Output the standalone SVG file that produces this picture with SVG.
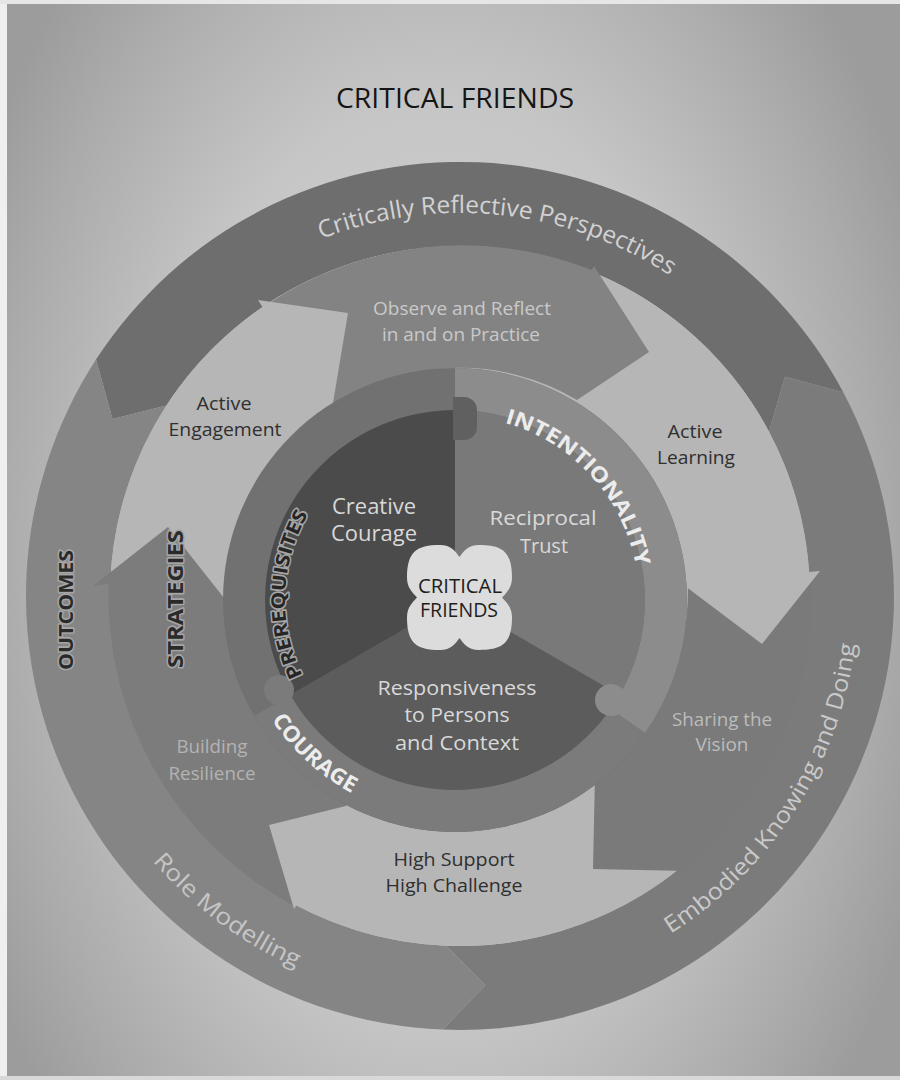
<svg xmlns="http://www.w3.org/2000/svg" width="900" height="1080" viewBox="0 0 900 1080">
<defs>
  <radialGradient id="bg" gradientUnits="userSpaceOnUse" cx="440" cy="560" r="520" gradientTransform="translate(440 560) scale(1 1.6) translate(-440 -560)">
    <stop offset="0" stop-color="#d4d4d4"/>
    <stop offset="0.55" stop-color="#c6c6c6"/>
    <stop offset="0.85" stop-color="#ababab"/>
    <stop offset="1" stop-color="#9c9c9c"/>
  </radialGradient>
  <path id="pCRP" d="M150.1,370.9 A383,383 0 0 1 809.9,440.2"/>
  <path id="pEKD" d="M390.9,987.9 A398,398 0 0 0 786,367.7"/>
  <path id="pRM" d="M60.2,666.5 A406,406 0 0 0 509.5,999"/>
  <path id="pPRE" d="M370,747.2 A170,170 0 0 1 380.5,447.2"/>
  <path id="pINT" d="M392.1,427.1 A184,184 0 0 1 621.8,677.8"/>
  <path id="pCOU" d="M236.8,580.9 A219,219 0 0 0 493,815.7"/>
</defs>
<style>
  text { font-family: "Open Sans", "Liberation Sans", sans-serif; text-anchor: middle; }
  .dk { fill: #2f2f2f; }
  .lt { fill: #d9d9d9; }
  .mt { fill: #bcbcbc; }
  .bold { font-weight: bold; }
  .halo { stroke: #a6a6a6; stroke-width: 3; paint-order: stroke; stroke-linejoin: round; }
  .light { fill: #b6b6b6; }
</style>

<rect width="900" height="1080" fill="url(#bg)"/>
<rect x="0" y="0" width="7" height="1080" fill="#efefef"/>
<rect x="0" y="0" width="900" height="4" fill="#e6e6e6"/>
<rect x="0" y="1076" width="900" height="4" fill="#d8d8d8"/>

<text x="455" y="108" font-size="27" fill="#151515" textLength="238" lengthAdjust="spacingAndGlyphs">CRITICAL FRIENDS</text>

<g id="outer-ring">
  <path id="band-critically-reflective" d="M96,359.6 A434,434 0 0 1 843.2,392.2 L785,376.8 L769,431.7 A350,350 0 0 0 166.5,405.4 L112.5,418.9 Z" fill="#6e6e6e"/>
  <path id="band-embodied" d="M785,376.8 L843.2,392.2 A434,434 0 0 1 442.6,1029.6 L485.2,985.2 L446,945.7 A350,350 0 0 0 769,431.7 Z" fill="#7b7b7b"/>
  <path id="band-role-modelling" d="M485.2,985.2 L442.6,1029.6 A434,434 0 0 1 96,359.6 L112.5,418.9 L166.5,405.4 A350,350 0 0 0 446,945.7 Z" fill="#858585"/>
</g>

<g id="middle-ring">
  <circle cx="460" cy="596" r="350" class="light"/>
  <path id="arrow-observe" d="M263.7,306.7 A351.5,351.5 0 0 1 591.7,270.1 L594,266 L649,352 L577,400 A228,228 0 0 0 332.5,407 Z" fill="#838383"/>
  <path id="arrow-sharing" d="M811.3,583.7 A351.5,351.5 0 0 1 686,865.3 L688,871 L593,869 L595,775 A228,228 0 0 0 687.9,588 Z" fill="#7a7a7a"/>
  <path id="arrow-building" d="M292.3,904.9 A351.5,351.5 0 0 1 108.7,583.7 L93,586 L168,527 L224,598 L232,596 A228,228 0 0 0 351.2,796.4 Z" fill="#7c7c7c"/>
  <polygon id="head-active-engagement" points="258,300 348,313 331,415" class="light"/>
  <polygon id="head-active-learning" points="681,583 820,571 762,644" class="light"/>
  <polygon id="head-high-support" points="362,802 269,825 294,909" class="light"/>
</g>

<g id="inner-band">
  <circle cx="455" cy="600" r="232" fill="#717171"/>
  <path id="band-intentionality" d="M455,368 A232,232 0 0 1 645,733.1 L610.6,709 A190,190 0 0 0 455,410 Z" fill="#8c8c8c"/>
  <path id="band-courage" d="M645,733.1 A232,232 0 0 1 254.1,716 L290.5,695 A190,190 0 0 0 610.6,709 Z" fill="#7b7b7b"/>
</g>

<g id="core">
  <path id="sector-creative" d="M455,600 L290.5,695 A190,190 0 0 1 455,410 Z" fill="#4b4b4b"/>
  <path id="sector-reciprocal" d="M455,600 L455,410 A190,190 0 0 1 619.5,695 Z" fill="#797979"/>
  <path id="sector-responsiveness" d="M455,600 L619.5,695 A190,190 0 0 1 290.5,695 Z" fill="#5c5c5c"/>
  <path id="tab-top" d="M453,397 L464,397 A13,13 0 0 1 477,410 L477,427 A13,13 0 0 1 464,440 L453,440 Z" fill="#606060"/>
  <circle id="tab-right" cx="611" cy="700" r="16" fill="#8c8c8c"/>
  <circle id="tab-left" cx="279" cy="690" r="15" fill="#7b7b7b"/>
</g>

<g id="center-badge">
  <path d="M407,578 C407,552 416,545 440,545 C451,545 455,551 459.5,557 C464,551 468,545 479,545 C503,545 512,552 512,578 C512,588 506,593 502,597.5 C506,602 512,607 512,617 C512,643 503,650 479,650 C468,650 464,644 459.5,638 C455,644 451,650 440,650 C416,650 407,643 407,617 C407,607 413,602 417,597.5 C413,593 407,588 407,578 Z" fill="#dcdcdc"/>
  <text x="460" y="593" font-size="20" fill="#1e1e1e" textLength="84" lengthAdjust="spacingAndGlyphs">CRITICAL</text>
  <text x="459" y="617" font-size="20" fill="#1e1e1e" textLength="78" lengthAdjust="spacingAndGlyphs">FRIENDS</text>
</g>

<g id="labels">
  <text font-size="24" fill="#d2d2d2"><textPath href="#pCRP" startOffset="50%" textLength="364" lengthAdjust="spacingAndGlyphs">Critically Reflective Perspectives</textPath></text>
  <text font-size="23" fill="#c9c9c9"><textPath href="#pEKD" startOffset="50%" textLength="355" lengthAdjust="spacingAndGlyphs">Embodied Knowing and Doing</textPath></text>
  <text font-size="23" fill="#c5c5c5"><textPath href="#pRM" startOffset="50%" textLength="180" lengthAdjust="spacingAndGlyphs">Role Modelling</textPath></text>

  <text class="bold halo" font-size="20" fill="#2a2a2a" transform="translate(73 610) rotate(-90)" textLength="120" lengthAdjust="spacingAndGlyphs">OUTCOMES</text>
  <text class="bold halo" font-size="21" fill="#2a2a2a" transform="translate(183 599) rotate(-90)" textLength="138" lengthAdjust="spacingAndGlyphs">STRATEGIES</text>
  <text class="bold halo" font-size="19" fill="#262626"><textPath href="#pPRE" startOffset="50%" textLength="168" lengthAdjust="spacingAndGlyphs">PREREQUISITES</textPath></text>
  <text class="bold" font-size="21" fill="#ececec"><textPath href="#pINT" startOffset="50%" textLength="205" lengthAdjust="spacingAndGlyphs">INTENTIONALITY</textPath></text>
  <text class="bold" font-size="22" fill="#ececec"><textPath href="#pCOU" startOffset="50%" textLength="110" lengthAdjust="spacingAndGlyphs">COURAGE</textPath></text>

  <text x="462" y="315" font-size="18" fill="#c9c9c9" textLength="178" lengthAdjust="spacingAndGlyphs">Observe and Reflect</text>
  <text x="461" y="341" font-size="18" fill="#c9c9c9" textLength="158" lengthAdjust="spacingAndGlyphs">in and on Practice</text>

  <text x="224" y="410" font-size="19" class="dk" textLength="55" lengthAdjust="spacingAndGlyphs">Active</text>
  <text x="225" y="436" font-size="19" class="dk" textLength="113" lengthAdjust="spacingAndGlyphs">Engagement</text>

  <text x="695" y="438" font-size="19" class="dk" textLength="55" lengthAdjust="spacingAndGlyphs">Active</text>
  <text x="696" y="464" font-size="19" class="dk" textLength="78" lengthAdjust="spacingAndGlyphs">Learning</text>

  <text x="722" y="726" font-size="17.5" class="mt" textLength="100" lengthAdjust="spacingAndGlyphs">Sharing the</text>
  <text x="722" y="751" font-size="17.5" class="mt" textLength="53" lengthAdjust="spacingAndGlyphs">Vision</text>

  <text x="212" y="753" font-size="19" fill="#b3b3b3" textLength="71" lengthAdjust="spacingAndGlyphs">Building</text>
  <text x="212" y="780" font-size="19" fill="#b3b3b3" textLength="87" lengthAdjust="spacingAndGlyphs">Resilience</text>

  <text x="454" y="866" font-size="19" class="dk" textLength="121" lengthAdjust="spacingAndGlyphs">High Support</text>
  <text x="454" y="892" font-size="19" class="dk" textLength="137" lengthAdjust="spacingAndGlyphs">High Challenge</text>

  <text x="374" y="514" font-size="21" class="lt" textLength="84" lengthAdjust="spacingAndGlyphs">Creative</text>
  <text x="374" y="541" font-size="21" class="lt" textLength="86" lengthAdjust="spacingAndGlyphs">Courage</text>

  <text x="543" y="525" font-size="19.5" class="lt" textLength="107" lengthAdjust="spacingAndGlyphs">Reciprocal</text>
  <text x="544" y="553" font-size="19.5" class="lt" textLength="48" lengthAdjust="spacingAndGlyphs">Trust</text>

  <text x="457" y="695" font-size="20" class="lt" textLength="159" lengthAdjust="spacingAndGlyphs">Responsiveness</text>
  <text x="457" y="722" font-size="20" class="lt" textLength="105" lengthAdjust="spacingAndGlyphs">to Persons</text>
  <text x="457" y="750" font-size="20" class="lt" textLength="124" lengthAdjust="spacingAndGlyphs">and Context</text>
</g>
</svg>
